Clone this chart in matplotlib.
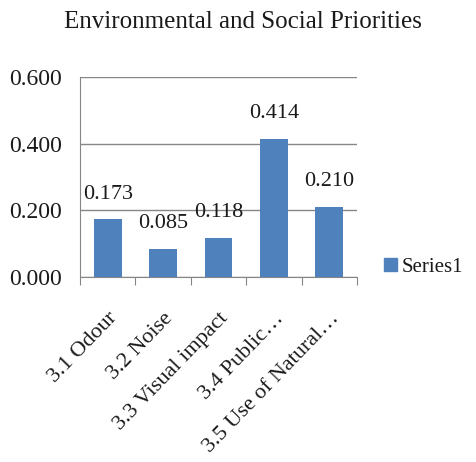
import matplotlib
matplotlib.use("Agg")
import matplotlib.pyplot as plt
import numpy as np
from matplotlib.patches import Patch

categories = ["3.1 Odour", "3.2 Noise", "3.3 Visual impact", "3.4 Public…", "3.5 Use of Natural…"]
values = [0.173, 0.085, 0.118, 0.414, 0.210]
yticks = [0.0, 0.2, 0.4, 0.6]
series_name = "Series1"
title = "Environmental and Social Priorities"

plt.rcParams["font.family"] = ["Liberation Serif", "DejaVu Serif"]
bar_color = "#4F81BD"
axis_color = "#868686"
text_color = "#1a1a1a"

fig = plt.figure(figsize=(4.76, 4.62), dpi=100)
ax = fig.add_axes([0.168, 0.4004, 0.582, 0.4329])

x = np.arange(len(categories))
ax.bar(x, values, width=0.5, color=bar_color, zorder=3)

for xi, v in zip(x, values):
    ax.text(xi, v + 0.047, f"{v:.3f}", ha="center", va="bottom", fontsize=16, color=text_color)

ax.set_xlim(-0.5, len(categories) - 0.5)
ax.set_ylim(0, 0.6)
ax.set_yticks(yticks)
ax.set_yticklabels([f"{t:.3f}" for t in yticks], fontsize=17, color=text_color)
ax.tick_params(axis="y", length=0, pad=13)
ax.yaxis.grid(True, color=axis_color, linewidth=1, zorder=0)

ax.set_xticks(np.arange(len(categories) + 1) - 0.5, minor=False)
ax.set_xticklabels([])
ax.tick_params(axis="x", which="major", length=6, color=axis_color, direction="out")
ax.set_xticks(x, minor=True)
ax.set_xticklabels(categories, minor=True, rotation=46, ha="right",
                   rotation_mode="anchor", fontsize=16, color=text_color)
ax.tick_params(axis="x", which="minor", length=0, pad=23)

for s in ["top", "right"]:
    ax.spines[s].set_visible(False)
for s in ["left", "bottom"]:
    ax.spines[s].set_color(axis_color)

fig.text(0.51, 0.953, title, ha="center", va="center", fontsize=18, color=text_color)

ax.legend(handles=[Patch(color=bar_color, label=series_name)], loc="center left",
          bbox_to_anchor=(1.03, 0.05), frameon=False, fontsize=15,
          handlelength=0.6, handleheight=0.6, handletextpad=0.25, labelcolor=text_color)

fig.savefig("out.png", dpi=100)
